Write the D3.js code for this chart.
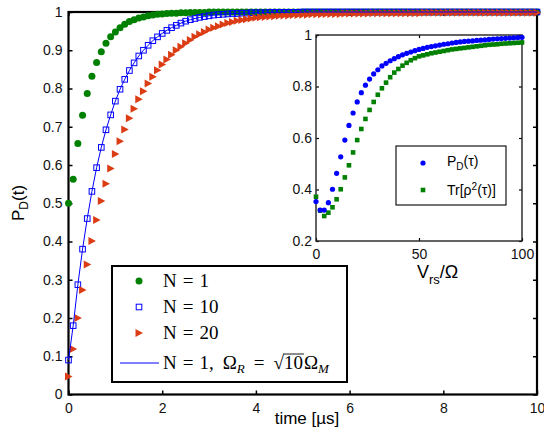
<!DOCTYPE html>
<html><head><meta charset="utf-8">
<script src="https://cdn.jsdelivr.net/npm/d3@7"></script>
<style>body{margin:0;background:#fff}</style>
</head><body>
<svg id="c" width="544" height="434"></svg>
<script>
// ---------- DATA ----------
const times = d3.range(101).map(i => +(i / 10).toFixed(1)); // time [µs]
const pN1 = [
  .500,.563,.656,.730,.787,.832,.868,.896,.918,.935,
  .948,.959,.968,.975,.980,.984,.987,.990,.992,.994,
  .995,.996,.997,.997,.998,.998,.999,.999,.999,.999,
  1,1,1,1,1,1,1,1,1,1, 1,1,1,1,1,1,1,1,1,1,
  1,1,1,1,1,1,1,1,1,1, 1,1,1,1,1,1,1,1,1,1,
  1,1,1,1,1,1,1,1,1,1, 1,1,1,1,1,1,1,1,1,1,
  1,1,1,1,1,1,1,1,1,1, 1];
const pN10 = [
  .090,.180,.287,.380,.460,.531,.593,.646,.692,.731,
  .767,.798,.824,.847,.867,.885,.900,.913,.925,.935,
  .944,.952,.959,.965,.971,.976,.980,.983,.986,.988,
  .990,.992,.993,.994,.995,.996,.996,.997,.997,.998,
  .998,.998,.998,.999,.999,.999,.999,.999,.999,.999,
  1,1,1,1,1,1,1,1,1,1, 1,1,1,1,1,1,1,1,1,1,
  1,1,1,1,1,1,1,1,1,1, 1,1,1,1,1,1,1,1,1,1,
  1,1,1,1,1,1,1,1,1,1, 1];
const pN20 = [
  .047,.119,.200,.273,.340,.401,.456,.506,.551,.591,
  .629,.662,.693,.722,.747,.772,.793,.813,.831,.848,
  .863,.876,.888,.900,.909,.918,.927,.935,.942,.948,
  .954,.959,.963,.967,.971,.974,.977,.979,.981,.983,
  .985,.986,.987,.988,.989,.990,.991,.991,.992,.992,
  .993,.993,.994,.994,.994,.995,.995,.995,.995,.996,
  .996,.996,.996,.996,.996,.997,.997,.997,.997,.997,
  .997,.997,.997,.997,.997,.997,.998,.998,.998,.998,
  .998,.998,.998,.998,.998,.998,.998,.998,.998,.998,
  .998,.998,.998,.998,.998,.998,.998,.998,.998,.998, .998];
const pN1sqrt10 = pN10; // solid line: N = 1, Ω_R = √10 Ω_M (coincides with N = 10)
const xTicks = [0, 2, 4, 6, 8, 10];
const yTicks = [0, .1, .2, .3, .4, .5, .6, .7, .8, .9, 1];

// inset
const vrs = d3.range(51).map(i => i * 2);
const insetPD = [
  .353,.320,.320,.349,.401,.463,.527,.592,.649,.697,
  .740,.776,.805,.829,.849,.865,.880,.890,.900,.908,
  .916,.923,.929,.934,.939,.944,.948,.952,.955,.958,
  .961,.964,.966,.969,.971,.973,.975,.976,.977,.979,
  .980,.981,.983,.984,.985,.986,.987,.988,.989,.990, .991];
const insetTr = [
  .372,.318,.297,.310,.331,.362,.401,.447,.494,.544,
  .592,.635,.674,.709,.740,.768,.793,.815,.836,.854,
  .868,.881,.892,.902,.910,.917,.921,.925,.929,.932,
  .935,.938,.941,.944,.946,.948,.950,.952,.954,.956,
  .958,.960,.962,.963,.964,.966,.967,.968,.969,.970, .971];
const insetXTicks = [0, 50, 100];
const insetYTicks = [.2, .4, .6, .8, 1];

// ---------- DRAW ----------
const svg = d3.select('#c');
const sans = '"Liberation Sans", Arial, Helvetica, sans-serif';
const serif = '"Liberation Serif", "Times New Roman", serif';
const GREEN = '#008000', BLUE = '#0000ff', RED = '#dc3c14';

const x = d3.scaleLinear().domain([0, 10]).range([68.5, 537]);
const y = d3.scaleLinear().domain([0, 1]).range([394.5, 12]);

function styleAxis(g, fs, sw) {
  g.select('.domain').remove();
  g.selectAll('.tick line').attr('stroke', '#000').attr('stroke-width', sw);
  g.selectAll('.tick text').attr('font-family', sans).attr('font-size', fs).attr('fill', '#111');
}
const fmt = d => String(d);

svg.append('g').attr('transform', `translate(0,${y(0)})`)
  .call(d3.axisBottom(x).tickValues(xTicks).tickSizeInner(-4).tickSizeOuter(0).tickPadding(9).tickFormat(fmt))
  .call(g => styleAxis(g, 14, 1.5));
svg.append('g').attr('transform', `translate(0,${y(1)})`)
  .call(d3.axisTop(x).tickValues(xTicks).tickSizeInner(-4).tickSizeOuter(0).tickFormat(''))
  .call(g => styleAxis(g, 14, 1.5));
svg.append('g').attr('transform', `translate(${x(0)},0)`)
  .call(d3.axisLeft(y).tickValues(yTicks).tickSizeInner(-4).tickSizeOuter(0).tickPadding(6).tickFormat(fmt))
  .call(g => styleAxis(g, 14, 1.5));
svg.append('g').attr('transform', `translate(${x(10)},0)`)
  .call(d3.axisRight(y).tickValues(yTicks).tickSizeInner(-4).tickSizeOuter(0).tickFormat(''))
  .call(g => styleAxis(g, 14, 1.5));

svg.append('rect').attr('x', x(0)).attr('y', y(1)).attr('width', x(10) - x(0)).attr('height', y(0) - y(1))
  .attr('fill', 'none').attr('stroke', '#000').attr('stroke-width', 2.2);

// series
const tri = 'M-3.5,-4 L4,0 L-3.5,4 Z';
svg.append('g').selectAll('circle').data(times).join('circle')
  .attr('cx', (d) => x(d)).attr('cy', (d, i) => y(pN1[i])).attr('r', 3.5).attr('fill', GREEN);
svg.append('g').selectAll('rect').data(times).join('rect')
  .attr('x', d => x(d) - 2.8).attr('y', (d, i) => y(pN10[i]) - 2.8).attr('width', 5.6).attr('height', 5.6)
  .attr('fill', 'none').attr('stroke', BLUE).attr('stroke-width', 1);
svg.append('g').selectAll('path').data(times).join('path')
  .attr('transform', (d, i) => `translate(${x(d)},${y(pN20[i])})`).attr('d', tri).attr('fill', RED);
svg.append('path').datum(times)
  .attr('d', d3.line().x(d => x(d)).y((d, i) => y(pN1sqrt10[i])))
  .attr('fill', 'none').attr('stroke', BLUE).attr('stroke-width', 1);

// axis labels
svg.append('text').attr('x', 307).attr('y', 424).attr('text-anchor', 'middle')
  .attr('font-family', sans).attr('font-size', 17).text('time [µs]');
const yl = svg.append('text').attr('transform', 'translate(24,221) rotate(-90)')
  .attr('font-family', sans).attr('font-size', 17);
yl.append('tspan').text('P');
yl.append('tspan').attr('dy', 4).attr('font-size', 12).text('D');
yl.append('tspan').attr('dy', -4).text('(t)');

// main legend
const lg = svg.append('g');
lg.append('rect').attr('x', 112).attr('y', 266).attr('width', 235).attr('height', 116)
  .attr('fill', '#fff').attr('stroke', '#000').attr('stroke-width', 2);
const lx = 139, ly = [281, 307, 333, 363];
lg.append('circle').attr('cx', lx).attr('cy', ly[0]).attr('r', 3.5).attr('fill', GREEN);
lg.append('rect').attr('x', lx - 2.8).attr('y', ly[1] - 2.8).attr('width', 5.6).attr('height', 5.6)
  .attr('fill', 'none').attr('stroke', BLUE);
lg.append('path').attr('transform', `translate(${lx},${ly[2]})`).attr('d', tri).attr('fill', RED);
lg.append('line').attr('x1', 120).attr('x2', 159).attr('y1', ly[3]).attr('y2', ly[3]).attr('stroke', BLUE);

function seq(g, x0, yb, parts) {
  let cx = x0;
  parts.forEach(p => {
    cx += (p.dx || 0);
    const t = g.append('text').attr('x', cx).attr('y', yb + (p.dy || 0))
      .attr('font-family', serif).attr('font-size', p.size || 19)
      .attr('font-style', p.italic ? 'italic' : 'normal').text(p.t);
    p.x0 = cx; p.w = t.node().getComputedTextLength();
    cx += p.w;
  });
  return parts;
}
const tx = 163;
seq(lg, tx, ly[0] + 6, [{t: 'N'}, {t: '=', dx: 6}, {t: '1', dx: 6}]);
seq(lg, tx, ly[1] + 6, [{t: 'N'}, {t: '=', dx: 6}, {t: '10', dx: 6}]);
seq(lg, tx, ly[2] + 6, [{t: 'N'}, {t: '=', dx: 6}, {t: '20', dx: 6}]);
const p4 = seq(lg, tx, ly[3] + 6, [
  {t: 'N'}, {t: '=', dx: 6}, {t: '1,', dx: 6}, {t: 'Ω', dx: 9}, {t: 'R', size: 13, italic: true, dy: 4},
  {t: '=', dx: 9}, {t: '√', dx: 9}, {t: '10', dx: 0}, {t: 'Ω', dx: 1}, {t: 'M', size: 13, italic: true, dy: 4}]);
lg.append('line').attr('x1', p4[7].x0 - 1).attr('x2', p4[7].x0 + p4[7].w + 1)
  .attr('y1', ly[3] - 9).attr('y2', ly[3] - 9).attr('stroke', '#000').attr('stroke-width', 0.9);

// ---------- INSET ----------
const ix = d3.scaleLinear().domain([0, 100]).range([316, 522]);
const iy = d3.scaleLinear().domain([0.2, 1]).range([241, 35]);
const ins = svg.append('g');
ins.append('rect').attr('x', ix(0)).attr('y', iy(1)).attr('width', ix(100) - ix(0)).attr('height', iy(0.2) - iy(1))
  .attr('fill', '#fff');
ins.append('g').attr('transform', `translate(0,${iy(0.2)})`)
  .call(d3.axisBottom(ix).tickValues(insetXTicks).tickSizeInner(-3).tickSizeOuter(0).tickPadding(8))
  .call(g => styleAxis(g, 14, 1.2));
ins.append('g').attr('transform', `translate(0,${iy(1)})`)
  .call(d3.axisTop(ix).tickValues(insetXTicks).tickSizeInner(-3).tickSizeOuter(0).tickFormat(''))
  .call(g => styleAxis(g, 14, 1.2));
ins.append('g').attr('transform', `translate(${ix(0)},0)`)
  .call(d3.axisLeft(iy).tickValues(insetYTicks).tickSizeInner(-3).tickSizeOuter(0).tickPadding(4).tickFormat(d => String(+d.toFixed(1))))
  .call(g => styleAxis(g, 14, 1.2));
ins.append('g').attr('transform', `translate(${ix(100)},0)`)
  .call(d3.axisRight(iy).tickValues(insetYTicks).tickSizeInner(-3).tickSizeOuter(0).tickFormat(''))
  .call(g => styleAxis(g, 14, 1.2));
ins.append('rect').attr('x', ix(0)).attr('y', iy(1)).attr('width', ix(100) - ix(0)).attr('height', iy(0.2) - iy(1))
  .attr('fill', 'none').attr('stroke', '#222').attr('stroke-width', 1.4);

ins.append('g').selectAll('rect').data(vrs).join('rect')
  .attr('x', d => ix(d) - 2.3).attr('y', (d, i) => iy(insetTr[i]) - 2.3).attr('width', 4.6).attr('height', 4.6)
  .attr('fill', GREEN);
ins.append('g').selectAll('circle').data(vrs).join('circle')
  .attr('cx', d => ix(d)).attr('cy', (d, i) => iy(insetPD[i])).attr('r', 2.6).attr('fill', BLUE);

// inset x label
const il = ins.append('text').attr('x', 417).attr('y', 278).attr('font-family', sans).attr('font-size', 18);
il.append('tspan').text('V');
il.append('tspan').attr('dy', 6).attr('font-size', 13).text('rs');
il.append('tspan').attr('dy', -6).text('/Ω');

// inset legend
const il2 = ins.append('g');
il2.append('rect').attr('x', 396).attr('y', 146).attr('width', 110).attr('height', 59)
  .attr('fill', '#fff').attr('stroke', '#000').attr('stroke-width', 1.1);
il2.append('circle').attr('cx', 423).attr('cy', 163).attr('r', 2.6).attr('fill', BLUE);
il2.append('rect').attr('x', 420.7).attr('y', 187.7).attr('width', 4.6).attr('height', 4.6).attr('fill', GREEN);
const t1 = il2.append('text').attr('x', 447).attr('y', 166).attr('font-family', sans).attr('font-size', 14);
t1.append('tspan').text('P');
t1.append('tspan').attr('dy', 4).attr('font-size', 10).text('D');
t1.append('tspan').attr('dy', -4).text('(τ)');
const t2 = il2.append('text').attr('x', 447).attr('y', 195).attr('font-family', sans).attr('font-size', 14);
t2.append('tspan').text('Tr[ρ');
t2.append('tspan').attr('dy', -5).attr('font-size', 10).text('2');
t2.append('tspan').attr('dy', 5).text('(τ)]');
</script>
</body></html>
